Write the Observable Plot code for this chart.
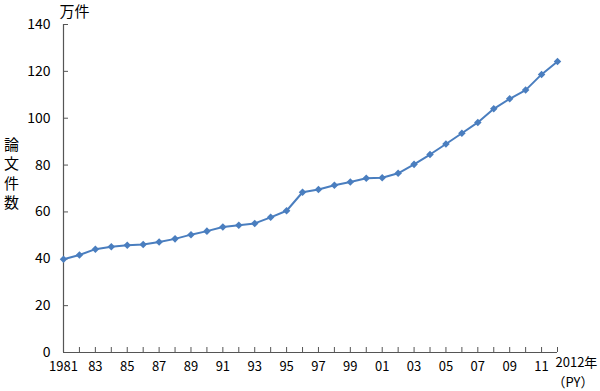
<!DOCTYPE html>
<html><head><meta charset="utf-8">
<script src="https://cdn.jsdelivr.net/npm/d3@7"></script>
<script src="https://cdn.jsdelivr.net/npm/@observablehq/plot@0.6"></script>
<style>body{margin:0;background:#fff}svg{display:block}</style>
</head><body><div id="chart"></div>
<script>
const years = [1981,1982,1983,1984,1985,1986,1987,1988,1989,1990,1991,1992,1993,1994,1995,1996,1997,1998,1999,2000,2001,2002,2003,2004,2005,2006,2007,2008,2009,2010,2011,2012];
const papers = [39.8,41.6,44.1,45.1,45.8,46.1,47.2,48.5,50.3,51.8,53.6,54.3,55.1,57.7,60.5,68.4,69.6,71.4,72.8,74.4,74.6,76.5,80.3,84.5,89.0,93.6,98.2,104.0,108.3,112.0,118.7,124.2];
const yTicks = [0,20,40,60,80,100,120,140];
const xLabelYears = [1981,1983,1985,1987,1989,1991,1993,1995,1997,1999,2001,2003,2005,2007,2009,2011];
const xLabels = ["1981","83","85","87","89","91","93","95","97","99","01","03","05","07","09","11"];
const unitLabel = "万件";
const yTitle = "論\n文\n件\n数";
const endLabel = "2012年";
const endSub = "（PY）";

const data = years.map((y, i) => ({year: y, value: papers[i]}));
const color = "#4a7ebf";
const font = "'Noto Sans CJK JP', 'Noto Sans', sans-serif";

const chart = Plot.plot({
  width: 600,
  height: 391,
  marginLeft: 63,
  marginRight: 43,
  marginTop: 24,
  marginBottom: 39,
  style: {fontFamily: font, fontSize: "14px", color: "#000", background: "#fff", overflow: "visible"},
  x: {domain: [1981, 2012], label: null},
  y: {domain: [0, 140], label: null},
  marks: [
    Plot.ruleX([1981], {stroke: "#555", strokeWidth: 1.2}),
    Plot.ruleY([0], {stroke: "#555", strokeWidth: 1.2}),
    Plot.axisY({ticks: yTicks, tickSize: -5, text: null, label: null, stroke: "#555"}),
    Plot.axisY({ticks: yTicks, tickSize: 0, tickPadding: 13, label: null, fontSize: 14}),
    Plot.axisX({ticks: years, tickSize: -5, text: null, label: null, stroke: "#555"}),
    Plot.axisX({ticks: xLabelYears, tickSize: 0, tickPadding: 9, label: null, fontSize: 13,
      tickFormat: d => xLabels[xLabelYears.indexOf(d)]}),
    Plot.line(data, {x: "year", y: "value", stroke: color, strokeWidth: 2}),
    Plot.dot(data, {x: "year", y: "value", symbol: "diamond2", r: 3.4, fill: color}),
    Plot.text([unitLabel], {frameAnchor: "top-left", textAnchor: "start", lineAnchor: "middle", dx: -4, dy: -12, fontSize: 15}),
    Plot.text([yTitle], {frameAnchor: "left", textAnchor: "middle", dx: -52, dy: -16, lineHeight: 1.3, fontSize: 15}),
    Plot.text([endLabel], {x: [2012], frameAnchor: "bottom", textAnchor: "start", lineAnchor: "middle", dx: -2, dy: 10, fontSize: 13}),
    Plot.text([endSub], {x: [2012], frameAnchor: "bottom", textAnchor: "start", lineAnchor: "middle", dx: -5, dy: 30, fontSize: 13})
  ]
});
document.getElementById("chart").appendChild(chart);
</script>
</body></html>
